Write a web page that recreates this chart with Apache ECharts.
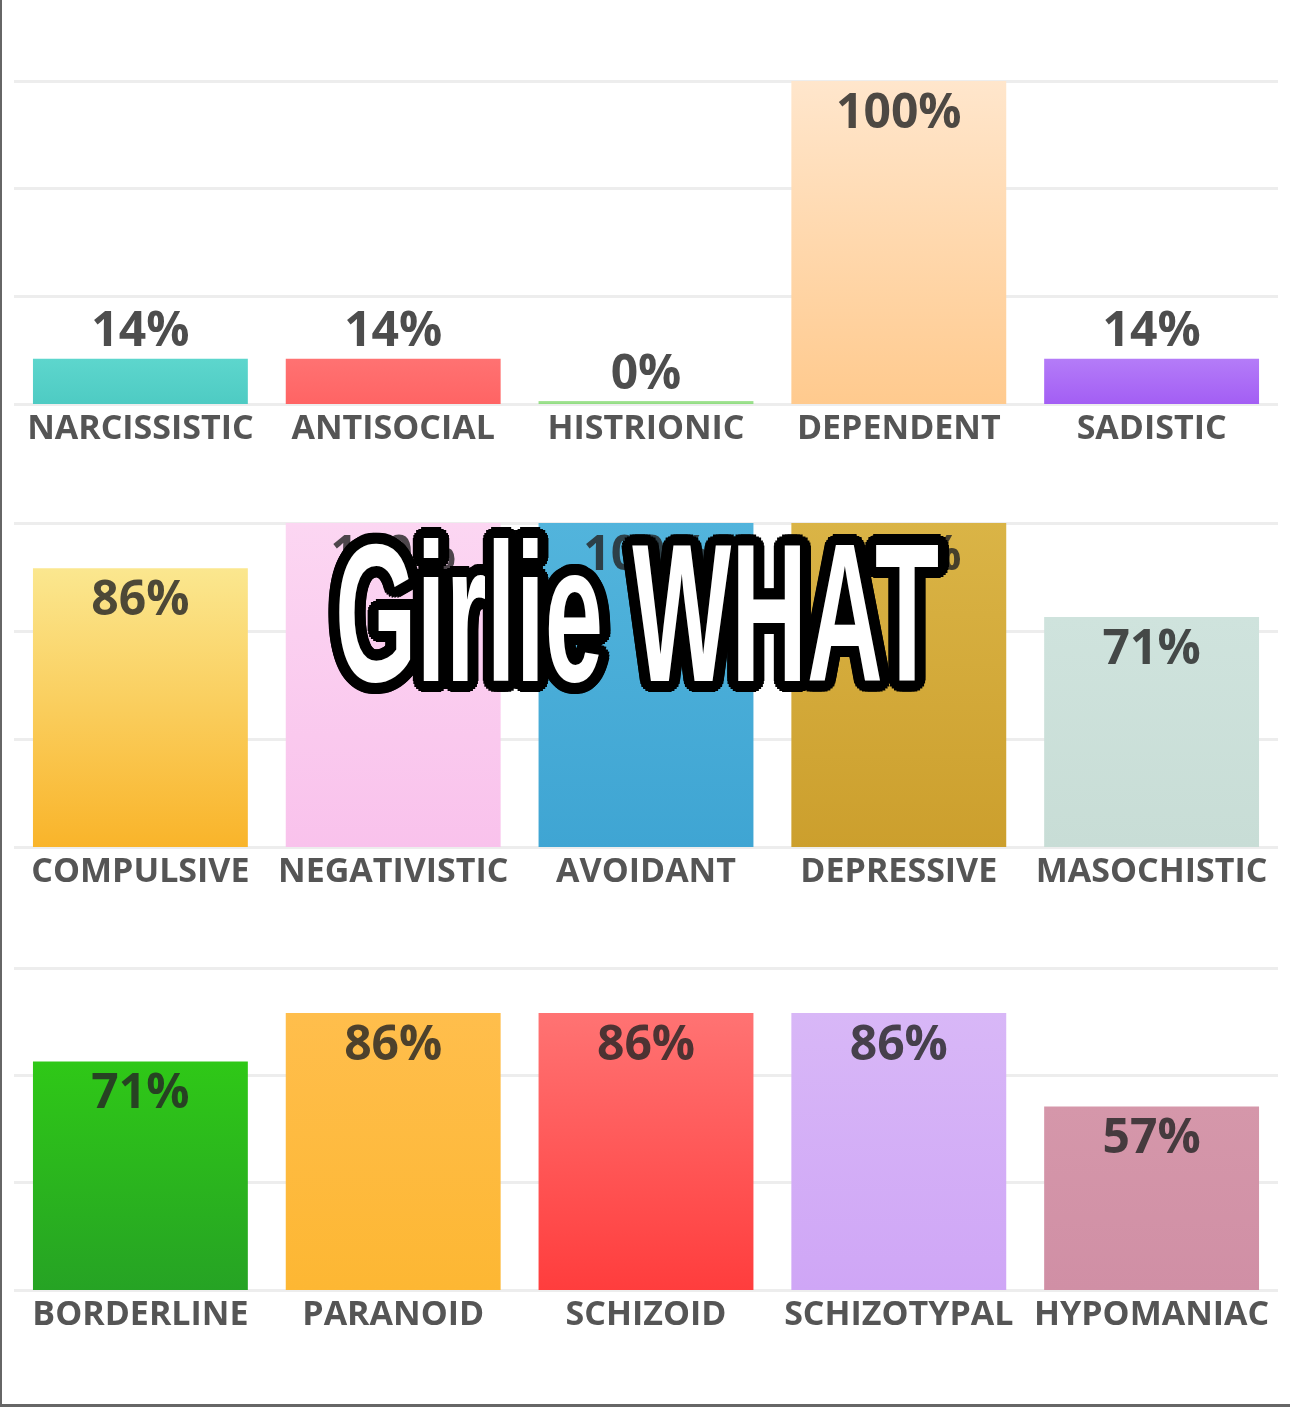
<!DOCTYPE html>
<html>
<head>
<meta charset="utf-8">
<script src="https://cdn.jsdelivr.net/npm/echarts@6/dist/echarts.min.js"></script>
<style>
  html, body { margin: 0; padding: 0; background: #fff; }
  #main { width: 1290px; height: 1407px; }
</style>
</head>
<body>
<div id="main"></div>
<script>
// data, one row of bars per grid
var row1Names = ['NARCISSISTIC', 'ANTISOCIAL', 'HISTRIONIC', 'DEPENDENT', 'SADISTIC'];
var row1Values = [14, 14, 0, 100, 14];
var row2Names = ['COMPULSIVE', 'NEGATIVISTIC', 'AVOIDANT', 'DEPRESSIVE', 'MASOCHISTIC'];
var row2Values = [86, 100, 100, 100, 71];
var row3Names = ['BORDERLINE', 'PARANOID', 'SCHIZOID', 'SCHIZOTYPAL', 'HYPOMANIAC'];
var row3Values = [71, 86, 86, 86, 57];
var axisMax = 100;
var axisStep = 100 / 3;
var overlayText = 'Girlie WHAT';

// top / bottom colour of each bar
var row1Colors = [['#5dd6cd', '#4ecbc3'], ['#ff7272', '#ff6464'], ['#a8e59a', '#8fdc80'], ['#ffe6cc', '#ffca8e'], ['#b47cf8', '#a35ef4']];
var row2Colors = [['#fbe78f', '#f9b42a'], ['#fcd6f2', '#f9c2ec'], ['#52b4dc', '#3fa5d3'], ['#dab446', '#cc9f2d'], ['#cfe3dd', '#c8ddd6']];
var row3Colors = [['#2fc817', '#26a324'], ['#ffbe4c', '#fdb733'], ['#ff7373', '#ff3d3d'], ['#d8b7f7', '#cfa6f6'], ['#d597aa', '#d08fa5']];

var grids = [
    {top: 81, height: 323},
    {top: 523, height: 324},
    {top: 968, height: 322}
];

var chart = echarts.init(document.getElementById('main'));

var makeData = function (values, colors) {
    return values.map(function (v, i) {
        return {
            value: v,
            itemStyle: {
                color: new echarts.graphic.LinearGradient(0, 0, 0, 1, [
                    {offset: 0, color: colors[i][0]},
                    {offset: 1, color: colors[i][1]}
                ])
            },
            label: v >= 50 ? {position: 'insideTop', distance: 9} : {position: 'top', distance: 2}
        };
    });
};

var rows = [[row1Names, row1Values, row1Colors], [row2Names, row2Values, row2Colors], [row3Names, row3Values, row3Colors]];

var xAxes = [], yAxes = [], series = [];
rows.forEach(function (r, k) {
    xAxes.push({
        type: 'category',
        gridIndex: k,
        data: r[0],
        axisLine: {show: false},
        axisTick: {show: false},
        axisLabel: {
            interval: 0,
            margin: 8,
            color: '#555',
            fontFamily: 'Open Sans',
            fontWeight: 'bold',
            fontSize: 34
        }
    });
    yAxes.push({
        type: 'value',
        gridIndex: k,
        min: 0,
        max: axisMax,
        interval: axisStep,
        axisLabel: {show: false},
        axisLine: {show: false},
        axisTick: {show: false},
        splitLine: {lineStyle: {color: '#ededed', width: 3}}
    });
    series.push({
        type: 'bar',
        xAxisIndex: k,
        yAxisIndex: k,
        barWidth: '85%',
        barMinHeight: k === 0 ? 3 : 0,
        data: makeData(r[1], r[2]),
        label: {
            show: true,
            formatter: '{c}%',
            color: 'rgba(38,38,38,0.82)',
            fontFamily: 'Open Sans',
            fontWeight: 'bold',
            fontSize: 48
        }
    });
});

// thick black outline made from offset copies, white text on top
var overlay = [];
var ox = 637, oy = 627;
var sx = 0.535;
var overlayFont = 'bold 196px "Liberation Sans", Arial, sans-serif';
for (var a = 0; a < 24; a++) {
    var t = a / 24 * Math.PI * 2;
    overlay.push({
        type: 'text',
        x: ox + Math.cos(t) * 11,
        y: oy + Math.sin(t) * 11,
        scaleX: sx,
        z: 100,
        style: {
            text: overlayText,
            fill: '#000',
            font: overlayFont,
            textAlign: 'center',
            textVerticalAlign: 'middle'
        }
    });
}
overlay.push({
    type: 'text',
    x: ox,
    y: oy,
    scaleX: sx,
    z: 101,
    style: {
        text: overlayText,
        fill: '#fff',
        font: overlayFont,
        textAlign: 'center',
        textVerticalAlign: 'middle'
    }
});
// image frame on the left and bottom
overlay.push({type: 'rect', z: 102, shape: {x: 0, y: 0, width: 2, height: 1407}, style: {fill: '#666'}});
overlay.push({type: 'rect', z: 102, shape: {x: 0, y: 1404, width: 1290, height: 3}, style: {fill: '#666'}});

chart.setOption({
    backgroundColor: '#fff',
    animation: false,
    grid: grids.map(function (g) {
        return {left: 14, right: 12, top: g.top, height: g.height};
    }),
    xAxis: xAxes,
    yAxis: yAxes,
    series: series,
    graphic: overlay
});
</script>
</body>
</html>
